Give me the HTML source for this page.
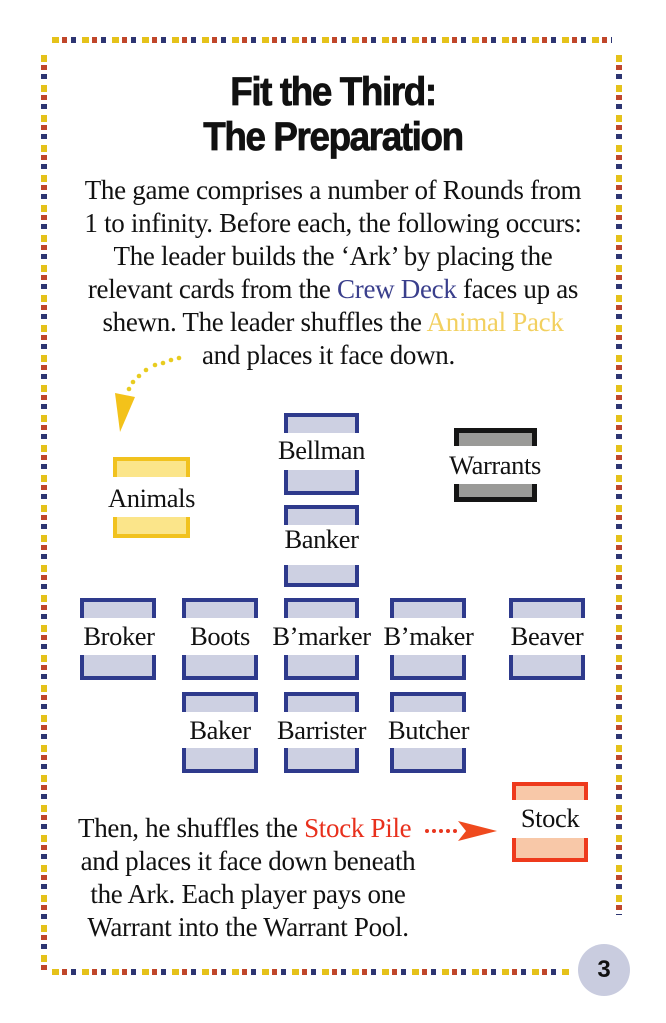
<!DOCTYPE html>
<html><head><meta charset="utf-8"><style>
body{margin:0;width:666px;height:1023px;background:#fff;position:relative;overflow:hidden;font-family:"Liberation Serif",serif;}
.t{position:absolute;left:0;width:666px;text-align:center;white-space:nowrap;color:#111;}
.b{font-size:27px;letter-spacing:-0.3px;}
.title{font-family:"Liberation Sans",sans-serif;font-weight:bold;font-size:40px;letter-spacing:-1.5px;transform:scaleX(0.92);-webkit-text-stroke:0.8px #111;}
.card{position:absolute;}
.p{position:absolute;left:0;right:0;box-sizing:border-box;background:#cdd0e2;border:4px solid #2e3a8c;}
.p.top{top:0;border-bottom:none;}
.p.bot{bottom:0;border-top:none;}
.lab{position:absolute;font-size:26.5px;letter-spacing:-0.4px;white-space:nowrap;text-align:center;color:#111;}
.bd{position:absolute;}
</style></head><body>
<div class="bd" style="left:52px;top:37px;width:560px;height:6px;background:repeating-linear-gradient(90deg,#e5c21a 0 7px,transparent 7px 10px,#c0462a 10px 15px,transparent 15px 19px,#2d3572 19px 24px,transparent 24px 30px);"></div>
<div class="bd" style="left:52px;top:969px;width:520px;height:6px;background:repeating-linear-gradient(90deg,#e5c21a 0 7px,transparent 7px 10px,#c0462a 10px 15px,transparent 15px 19px,#2d3572 19px 24px,transparent 24px 30px);"></div>
<div class="bd" style="left:41px;top:55px;width:6px;height:915px;background:repeating-linear-gradient(180deg,#e5c21a 0 7px,transparent 7px 10px,#c0462a 10px 15px,transparent 15px 19px,#2d3572 19px 24px,transparent 24px 30px);"></div>
<div class="bd" style="left:616px;top:55px;width:6px;height:860px;background:repeating-linear-gradient(180deg,#e5c21a 0 7px,transparent 7px 10px,#c0462a 10px 15px,transparent 15px 19px,#2d3572 19px 24px,transparent 24px 30px);"></div>
<div style="position:absolute;left:578px;top:944px;width:52px;height:52px;border-radius:50%;background:#c9ccdf;text-align:center;line-height:52px;font-family:'Liberation Sans',sans-serif;font-weight:bold;font-size:24px;color:#111;">3</div>

<div class="t title" style="top:70px;">Fit the Third:</div>
<div class="t title" style="top:115px;">The Preparation</div>
<div class="t b" style="top:175px;">The game comprises a number of Rounds from</div>
<div class="t b" style="top:208px;">1 to infinity. Before each, the following occurs:</div>
<div class="t b" style="top:241px;">The leader builds the ‘Ark’ by placing the</div>
<div class="t b" style="top:274px;">relevant cards from the <span style="color:#3a3f8c">Crew Deck</span> faces up as</div>
<div class="t b" style="top:307px;">shewn. The leader shuffles the <span style="color:#f2d060">Animal Pack</span></div>
<div class="t b" style="top:340px;left:202px;width:auto;text-align:left;">and places it face down.</div>

<svg style="position:absolute;left:0;top:0" width="666" height="1023">
<g fill="#e8cc20">
<circle cx="179" cy="358" r="2.3"/><circle cx="171" cy="360" r="2.3"/><circle cx="163" cy="363" r="2.3"/><circle cx="155" cy="365" r="2.3"/><circle cx="146" cy="370" r="2.3"/><circle cx="139" cy="376" r="2.3"/><circle cx="133" cy="382" r="2.3"/><circle cx="129" cy="389" r="2.3"/>
</g>
<polygon points="115,393 135,397 120,432" fill="#f3c21a"/>
<g fill="#e8361e"><circle cx="427" cy="831" r="2"/><circle cx="434" cy="831" r="2"/><circle cx="441" cy="831" r="2"/><circle cx="448" cy="831" r="2"/><circle cx="455" cy="831" r="2"/></g>
<polygon points="458,821 497,831 458,841 466,831" fill="#ef4a1e"/>
</svg>

<div class="card" style="left:113px;top:457px;width:77px;height:81px;">
<div class="p top" style="height:20px;background:#fbe58a;border-color:#f1c21e;"></div>
<div class="p bot" style="height:21px;background:#fbe58a;border-color:#f1c21e;"></div></div>
<div class="lab" style="left:88px;width:127px;top:483px;">Animals</div>

<div class="card" style="left:454px;top:428px;width:83px;height:74px;">
<div class="p top" style="height:18px;background:#9a9a98;border-color:#151515;border-width:5px;"></div>
<div class="p bot" style="height:18px;background:#9a9a98;border-color:#151515;border-width:5px;"></div></div>
<div class="lab" style="left:425px;width:140px;top:450px;">Warrants</div>

<div class="card" style="left:512px;top:782px;width:76px;height:80px;">
<div class="p top" style="height:18px;background:#f8c8a8;border-color:#ee3a1c;"></div>
<div class="p bot" style="height:24px;background:#f8c8a8;border-color:#ee3a1c;"></div></div>
<div class="lab" style="left:490px;width:120px;top:803px;">Stock</div>

<div class="card" style="left:284px;top:413px;width:75px;height:82px;"><div class="p top" style="height:20px"></div><div class="p bot" style="height:25px"></div></div>
<div class="lab" style="left:256px;width:131px;top:435px;">Bellman</div>
<div class="card" style="left:284px;top:505px;width:75px;height:82px;"><div class="p top" style="height:20px"></div><div class="p bot" style="height:22px"></div></div>
<div class="lab" style="left:256px;width:131px;top:524px;">Banker</div>

<div class="card" style="left:80px;top:598px;width:76px;height:82px;"><div class="p top" style="height:20px"></div><div class="p bot" style="height:25px"></div></div>
<div class="lab" style="left:59px;width:120px;top:621px;">Broker</div>
<div class="card" style="left:182px;top:598px;width:76px;height:82px;"><div class="p top" style="height:20px"></div><div class="p bot" style="height:25px"></div></div>
<div class="lab" style="left:160px;width:120px;top:621px;">Boots</div>
<div class="card" style="left:284px;top:598px;width:75px;height:82px;"><div class="p top" style="height:20px"></div><div class="p bot" style="height:25px"></div></div>
<div class="lab" style="left:256px;width:131px;top:621px;">B’marker</div>
<div class="card" style="left:390px;top:598px;width:76px;height:82px;"><div class="p top" style="height:20px"></div><div class="p bot" style="height:25px"></div></div>
<div class="lab" style="left:363px;width:131px;top:621px;">B’maker</div>
<div class="card" style="left:509px;top:598px;width:76px;height:82px;"><div class="p top" style="height:20px"></div><div class="p bot" style="height:25px"></div></div>
<div class="lab" style="left:487px;width:120px;top:621px;">Beaver</div>

<div class="card" style="left:182px;top:692px;width:76px;height:81px;"><div class="p top" style="height:20px"></div><div class="p bot" style="height:25px"></div></div>
<div class="lab" style="left:155px;width:130px;top:715px;">Baker</div>
<div class="card" style="left:284px;top:692px;width:75px;height:81px;"><div class="p top" style="height:20px"></div><div class="p bot" style="height:25px"></div></div>
<div class="lab" style="left:251px;width:141px;top:715px;">Barrister</div>
<div class="card" style="left:390px;top:692px;width:76px;height:81px;"><div class="p top" style="height:20px"></div><div class="p bot" style="height:25px"></div></div>
<div class="lab" style="left:363px;width:131px;top:715px;">Butcher</div>

<div class="t b" style="top:813px;left:78px;width:auto;text-align:left;">Then, he shuffles the <span style="color:#e8301c">Stock Pile</span></div>
<div class="t b" style="top:846px;left:78px;width:340px;">and places it face down beneath</div>
<div class="t b" style="top:879px;left:78px;width:340px;">the Ark. Each player pays one</div>
<div class="t b" style="top:912px;left:78px;width:340px;">Warrant into the Warrant Pool.</div>
</body></html>
